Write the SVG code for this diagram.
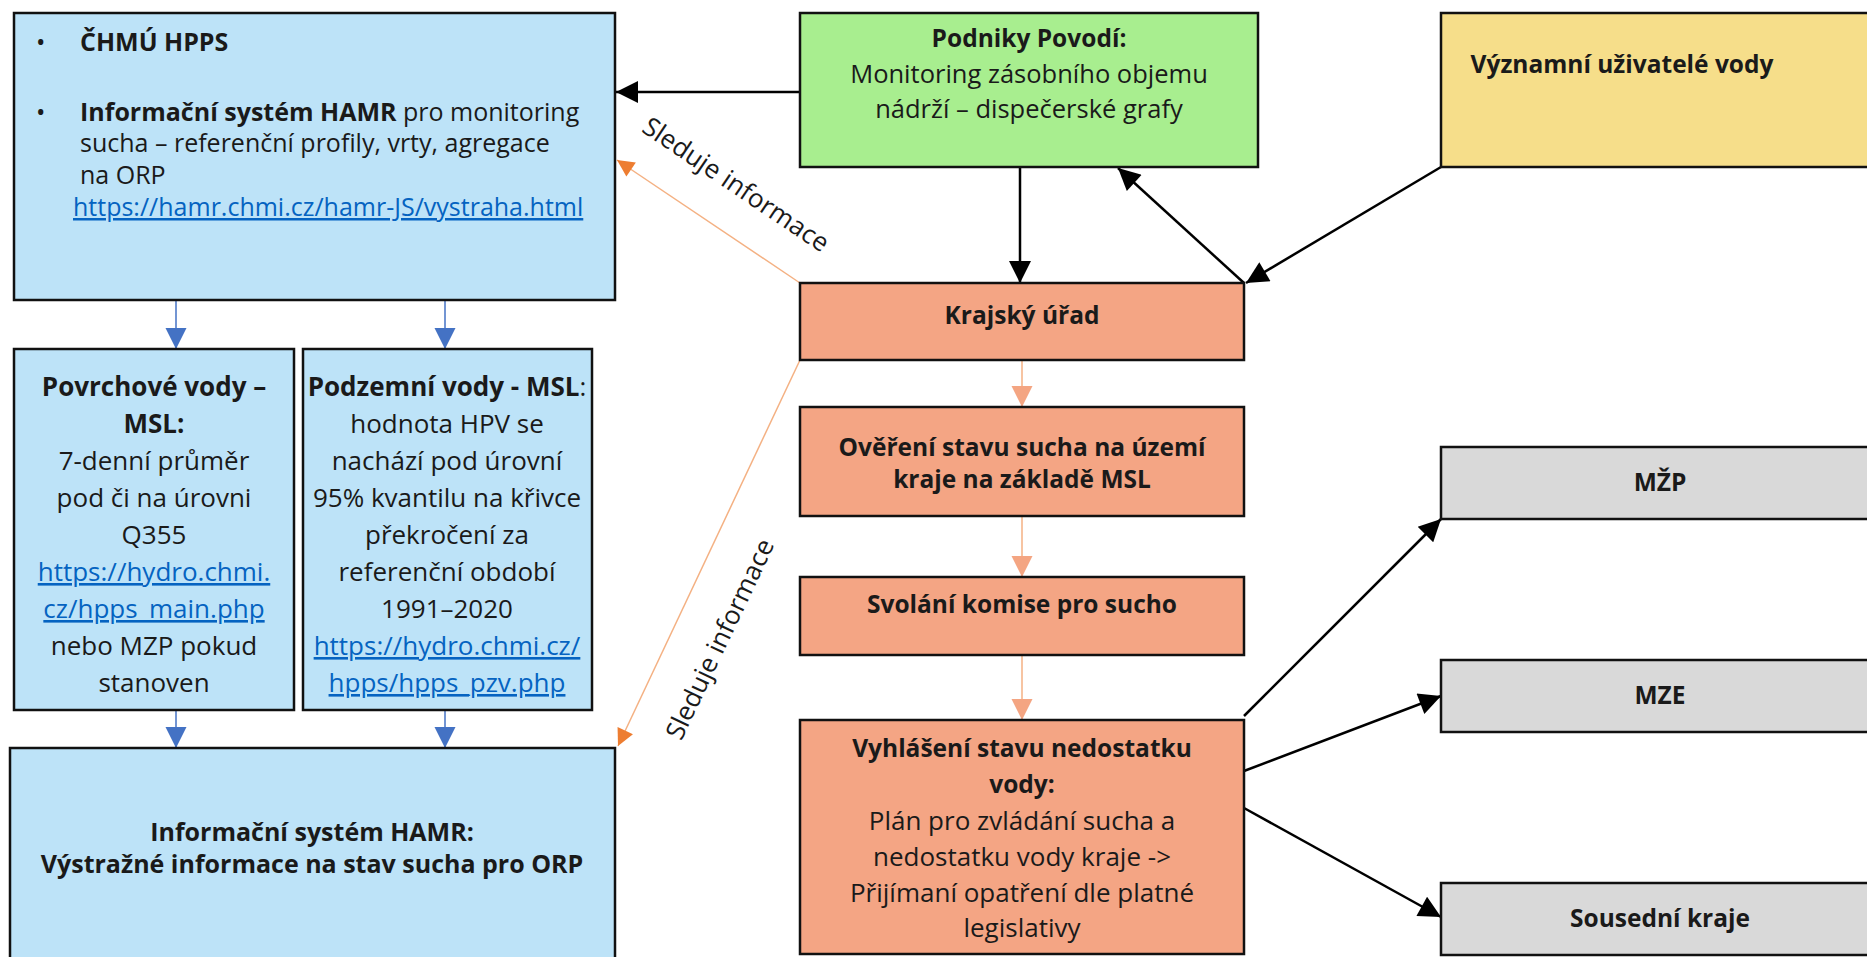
<svg xmlns="http://www.w3.org/2000/svg" width="1867" height="957" viewBox="0 0 1867 957">
<defs>
<style>
.t{font-family:"Open Sans","Noto Sans","DejaVu Sans",sans-serif;fill:#1a1a1a}
.s24{font-size:24.5px}.s25{font-size:25px}.s26{font-size:26px}.s255{font-size:25.5px}
.b{font-weight:bold}
.c{text-anchor:middle}
.lnk{fill:#0563C1;text-decoration:underline}
.box{stroke:#111;stroke-width:2.5}
.blue{fill:#BDE3F8}.green{fill:#A8EE8F}.yellow{fill:#F6DE8A}.orange{fill:#F4A584}.gray{fill:#D9D9D9}
.ck{stroke:#000;stroke-width:2.5;fill:none}
.cb{stroke:#4472C4;stroke-width:1.5;fill:none}
.co{stroke:#F4B183;stroke-width:1.5;fill:none}
</style>
<marker id="mk" viewBox="0 0 10 10" refX="10" refY="5" markerWidth="28" markerHeight="22" markerUnits="userSpaceOnUse" orient="auto"><path d="M0,0L10,5L0,10z" fill="#000"/></marker>
<marker id="mb" viewBox="0 0 10 10" refX="10" refY="5" markerWidth="21" markerHeight="22" markerUnits="userSpaceOnUse" orient="auto"><path d="M0,0L10,5L0,10z" fill="#4472C4"/></marker>
<marker id="mo" viewBox="0 0 10 10" refX="10" refY="5" markerWidth="21" markerHeight="22" markerUnits="userSpaceOnUse" orient="auto"><path d="M0,0L10,5L0,10z" fill="#F4A582"/></marker>
<marker id="md" viewBox="0 0 10 10" refX="10" refY="5" markerWidth="21" markerHeight="17" markerUnits="userSpaceOnUse" orient="auto"><path d="M0,0L10,5L0,10z" fill="#ED7D31"/></marker>
</defs>
<rect width="1867" height="957" fill="#fff"/>

<g id="connectors">
<line class="cb" x1="176" y1="300" x2="176" y2="349" marker-end="url(#mb)"/>
<line class="cb" x1="445" y1="300" x2="445" y2="349" marker-end="url(#mb)"/>
<line class="cb" x1="176" y1="710" x2="176" y2="748" marker-end="url(#mb)"/>
<line class="cb" x1="445" y1="710" x2="445" y2="748" marker-end="url(#mb)"/>
<line class="ck" x1="800" y1="92" x2="616" y2="92" marker-end="url(#mk)"/>
<line class="ck" x1="1020" y1="167" x2="1020" y2="283" marker-end="url(#mk)"/>
<line class="ck" x1="1244" y1="283" x2="1118" y2="168" marker-end="url(#mk)"/>
<line class="ck" x1="1441" y1="167" x2="1246" y2="283" marker-end="url(#mk)"/>
<line class="co" x1="1022" y1="360" x2="1022" y2="407" marker-end="url(#mo)"/>
<line class="co" x1="1022" y1="516" x2="1022" y2="577" marker-end="url(#mo)"/>
<line class="co" x1="1022" y1="655" x2="1022" y2="720" marker-end="url(#mo)"/>
<line class="co" x1="800" y1="283" x2="617" y2="160" marker-end="url(#md)"/>
<line class="co" x1="800" y1="360" x2="618" y2="746" marker-end="url(#md)"/>
<line class="ck" x1="1244" y1="716" x2="1441" y2="519" marker-end="url(#mk)"/>
<line class="ck" x1="1244" y1="771" x2="1441" y2="696" marker-end="url(#mk)"/>
<line class="ck" x1="1244" y1="808" x2="1441" y2="917" marker-end="url(#mk)"/>
<text class="t s26" transform="translate(731,192) rotate(34)" text-anchor="middle">Sleduje informace</text>
<text class="t s26" transform="translate(728,643) rotate(-64.6)" text-anchor="middle">Sleduje informace</text>
</g>

<g id="hpps">
<rect class="box blue" x="14" y="13" width="601" height="287"/>
<text class="t s25" x="36" y="51">•</text>
<text class="t s25 b" x="80" y="51">ČHMÚ HPPS</text>
<text class="t s25" x="36" y="121">•</text>
<text class="t s25" x="80" y="121"><tspan class="b">Informační systém HAMR</tspan> pro monitoring</text>
<text class="t s25" x="80" y="152">sucha – referenční profily, vrty, agregace</text>
<text class="t s25" x="80" y="184">na ORP</text>
<text class="t s25 lnk" x="73" y="216">https://hamr.chmi.cz/hamr-JS/vystraha.html</text>
</g>

<g id="povrchove">
<rect class="box blue" x="14" y="349" width="280" height="361"/>
<text class="t s26 c" x="154" y="396"><tspan class="b">Povrchové vody –</tspan><tspan x="154" y="433" class="b">MSL:</tspan><tspan x="154" y="470">7-denní průměr</tspan><tspan x="154" y="507">pod či na úrovni</tspan><tspan x="154" y="544">Q355</tspan><tspan x="154" y="581" class="lnk">https://hydro.chmi.</tspan><tspan x="154" y="618" class="lnk">cz/hpps_main.php</tspan><tspan x="154" y="655">nebo MZP pokud</tspan><tspan x="154" y="692">stanoven</tspan></text>
</g>

<g id="podzemni">
<rect class="box blue" x="303" y="349" width="289" height="361"/>
<text class="t s26 c" x="447" y="396"><tspan class="b">Podzemní vody - MSL</tspan>:<tspan x="447" y="433">hodnota HPV se</tspan><tspan x="447" y="470">nachází pod úrovní</tspan><tspan x="447" y="507">95% kvantilu na křivce</tspan><tspan x="447" y="544">překročení za</tspan><tspan x="447" y="581">referenční období</tspan><tspan x="447" y="618">1991–2020</tspan><tspan x="447" y="655" class="lnk">https://hydro.chmi.cz/</tspan><tspan x="447" y="692" class="lnk">hpps/hpps_pzv.php</tspan></text>
</g>

<g id="hamr">
<rect class="box blue" x="10" y="748" width="605" height="215"/>
<text class="t s25 b c" x="312" y="841">Informační systém HAMR:</text>
<text class="t s25 b c" x="312" y="873">Výstražné informace na stav sucha pro ORP</text>
</g>

<g id="povodi">
<rect class="box green" x="800" y="13" width="458" height="154"/>
<text class="t s24 b c" x="1029" y="47">Podniky Povodí:</text>
<text class="t s255 c" x="1029" y="83">Monitoring zásobního objemu</text>
<text class="t s255 c" x="1029" y="118">nádrží – dispečerské grafy</text>
</g>

<g id="uzivatele">
<rect class="box yellow" x="1441" y="13" width="440" height="154"/>
<text class="t s24 b c" x="1622" y="73">Významní uživatelé vody</text>
</g>

<g id="kraj">
<rect class="box orange" x="800" y="283" width="444" height="77"/>
<text class="t s24 b c" x="1022" y="324">Krajský úřad</text>
</g>

<g id="overeni">
<rect class="box orange" x="800" y="407" width="444" height="109"/>
<text class="t s24 b c" x="1022" y="456">Ověření stavu sucha na území</text>
<text class="t s24 b c" x="1022" y="488">kraje na základě MSL</text>
</g>

<g id="svolani">
<rect class="box orange" x="800" y="577" width="444" height="78"/>
<text class="t s24 b c" x="1022" y="613">Svolání komise pro sucho</text>
</g>

<g id="vyhlaseni">
<rect class="box orange" x="800" y="720" width="444" height="234"/>
<text class="t s26 c" x="1022" y="757"><tspan class="b s24">Vyhlášení stavu nedostatku</tspan><tspan x="1022" y="793" class="b s24">vody:</tspan><tspan x="1022" y="830">Plán pro zvládání sucha a</tspan><tspan x="1022" y="866">nedostatku vody kraje -&gt;</tspan><tspan x="1022" y="902">Přijímaní opatření dle platné</tspan><tspan x="1022" y="937">legislativy</tspan></text>
</g>

<g id="mzp">
<rect class="box gray" x="1441" y="447" width="440" height="72"/>
<text class="t s24 b c" x="1660" y="491">MŽP</text>
</g>

<g id="mze">
<rect class="box gray" x="1441" y="660" width="440" height="72"/>
<text class="t s24 b c" x="1660" y="704">MZE</text>
</g>

<g id="sousedni">
<rect class="box gray" x="1441" y="883" width="440" height="72"/>
<text class="t s24 b c" x="1660" y="927">Sousední kraje</text>
</g>
</svg>
